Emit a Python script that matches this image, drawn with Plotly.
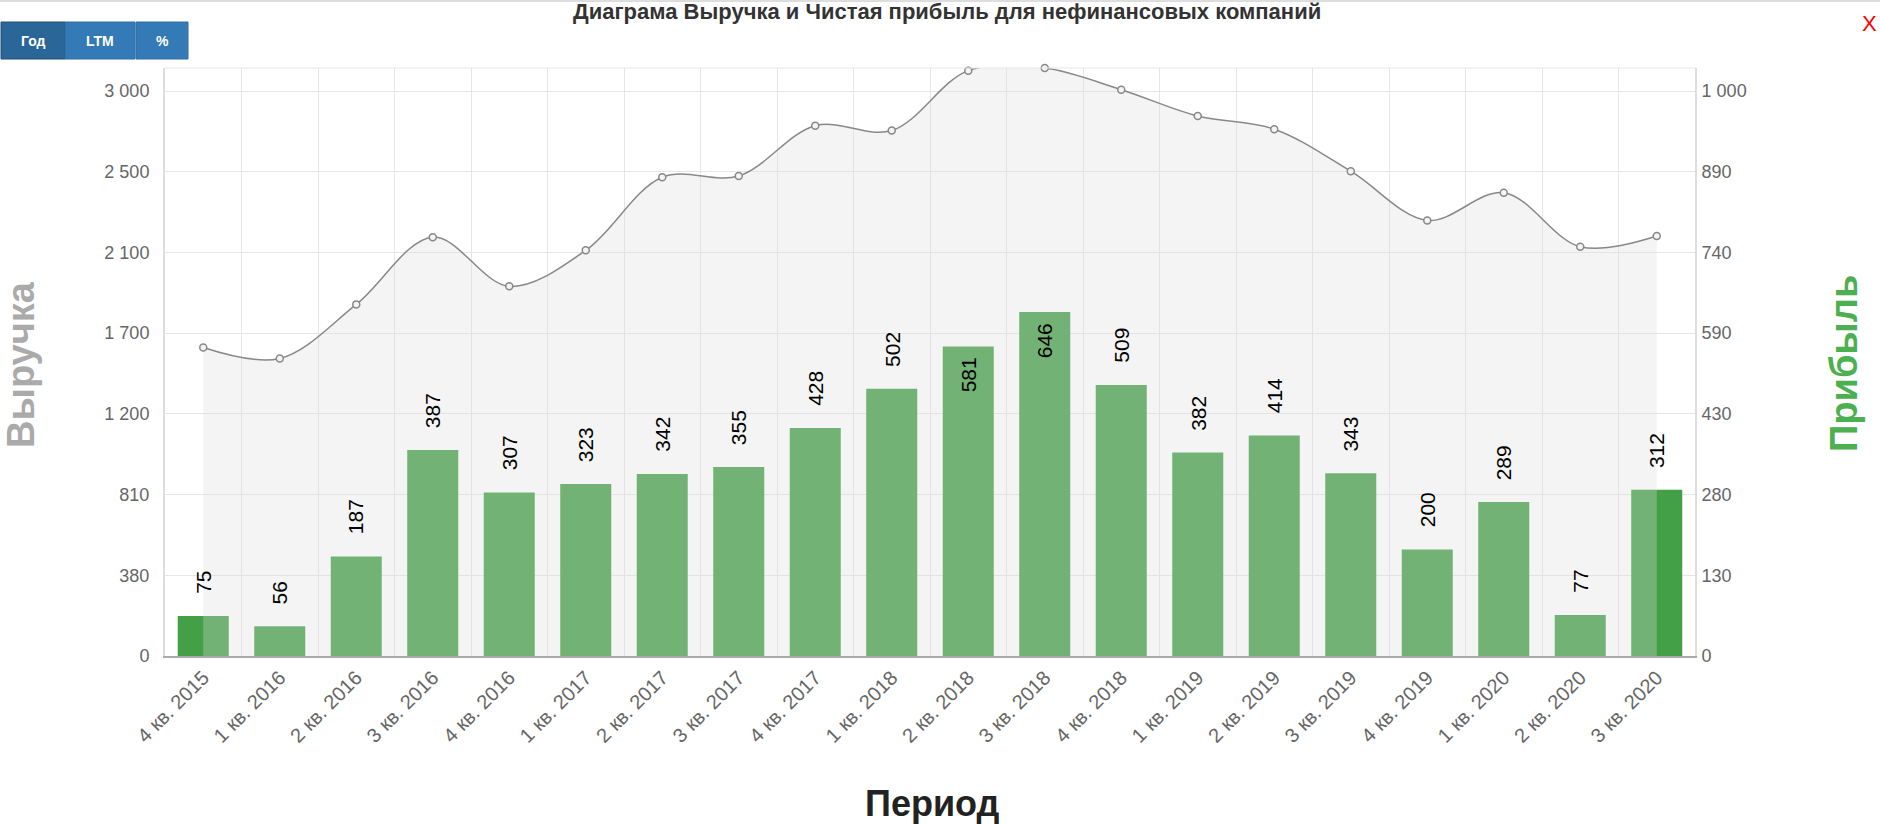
import plotly.graph_objects as go

# ---------------- data ----------------
periods = ["4 кв. 2015", "1 кв. 2016", "2 кв. 2016", "3 кв. 2016", "4 кв. 2016",
           "1 кв. 2017", "2 кв. 2017", "3 кв. 2017", "4 кв. 2017", "1 кв. 2018",
           "2 кв. 2018", "3 кв. 2018", "4 кв. 2018", "1 кв. 2019", "2 кв. 2019",
           "3 кв. 2019", "4 кв. 2019", "1 кв. 2020", "2 кв. 2020", "3 кв. 2020"]
revenue = [1638, 1580, 1867, 2224, 1963, 2154, 2542, 2549, 2816, 2790,
           3108, 3122, 3007, 2867, 2797, 2574, 2313, 2460, 2173, 2230]
profit = [75, 56, 187, 387, 307, 323, 342, 355, 428, 502,
          581, 646, 509, 382, 414, 343, 200, 289, 77, 312]
rev_tick_labels = ["0", "380", "810", "1 200", "1 700", "2 100", "2 500", "3 000"]
rev_tick_top = 3000
profit_tick_labels = ["0", "130", "280", "430", "590", "740", "890", "1 000"]
profit_tick_top = 1061

title_text = "Диаграма Выручка и Чистая прибыль для нефинансовых компаний"
buttons = ["Год", "LTM", "%"]

# ---------------- layout helpers ----------------
W, H = 1880, 824
L, R, T, B = 165, 185, 68, 168
PW, PH = W - L - R, H - T - B


def px(x):
    return (x - L) / PW


def py(y):
    return (H - B - y) / PH


n_int = len(rev_tick_labels) - 1
rev_tickvals = [rev_tick_top * i / n_int for i in range(n_int + 1)]
profit_tickvals = [profit_tick_top * i / n_int for i in range(n_int + 1)]
span_px = 565.0
rev_max = rev_tick_top * PH / span_px
profit_max = profit_tick_top * PH / span_px

FONT = "Liberation Sans, Arial, sans-serif"

fig = go.Figure()

fig.add_trace(go.Bar(
    x=periods, y=profit, yaxis="y", width=0.667,
    marker=dict(color="#43a047", line=dict(width=0)),
    hoverinfo="x+y", showlegend=False,
))

fig.add_trace(go.Scatter(
    x=periods, y=revenue, yaxis="y2", mode="lines+markers",
    line=dict(color="#888888", width=1.5, shape="spline", smoothing=1.0),
    marker=dict(symbol="circle", size=7, color="rgba(244,244,244,1)",
                line=dict(color="#888888", width=1.5)),
    fill="tozeroy", fillcolor="rgba(219,219,219,0.31)",
    cliponaxis=False, showlegend=False,
))

annotations = []
for p, v in zip(periods, profit):
    inside = v > 550
    annotations.append(dict(
        x=p, y=v, xref="x", yref="y", text=str(v), textangle=-90,
        showarrow=False, xanchor="center",
        yanchor="top" if inside else "bottom",
        yshift=-9 if inside else 20,
        font=dict(family=FONT, size=21, color="#000000"),
    ))

annotations += [
    dict(x=px(21), y=py(365), xref="paper", yref="paper", text="<b>Выручка</b>",
         textangle=-90, showarrow=False, xanchor="center", yanchor="middle",
         font=dict(family=FONT, size=38, color="#aaaaaa")),
    dict(x=px(1844), y=py(364), xref="paper", yref="paper", text="<b>Прибыль</b>",
         textangle=-90, showarrow=False, xanchor="center", yanchor="middle",
         font=dict(family=FONT, size=38, color="#4caf50")),
    dict(x=px(932), y=py(803), xref="paper", yref="paper", text="<b>Период</b>",
         showarrow=False, xanchor="center", yanchor="middle",
         font=dict(family=FONT, size=36, color="#222222")),
    dict(x=px(947), y=py(12), xref="paper", yref="paper", text="<b>" + title_text + "</b>",
         showarrow=False, xanchor="center", yanchor="middle",
         font=dict(family=FONT, size=22, color="#333333")),
    dict(x=px(1869), y=py(24), xref="paper", yref="paper", text="X",
         showarrow=False, xanchor="center", yanchor="middle",
         font=dict(family=FONT, size=22, color="#ff0000")),
]

shapes = []
btn_x = [(1, 65), (65, 135), (136, 188)]
btn_fill = ["#2b6698", "#337ab7", "#337ab7"]
btn_line = ["#204d74", "#2e6da4", "#2e6da4"]
for (x0, x1), label, fc, lc in zip(btn_x, buttons, btn_fill, btn_line):
    shapes.append(dict(type="rect", xref="paper", yref="paper",
                       x0=px(x0), x1=px(x1), y0=py(59), y1=py(22),
                       fillcolor=fc, line=dict(color=lc, width=1), layer="above"))
    annotations.append(dict(x=px((x0 + x1) / 2), y=py(41), xref="paper", yref="paper",
                            text="<b>" + label + "</b>", showarrow=False,
                            xanchor="center", yanchor="middle",
                            font=dict(family=FONT, size=14, color="#ffffff")))

shapes.append(dict(type="line", xref="paper", yref="paper", x0=px(0), x1=px(W),
                   y0=py(1), y1=py(1), line=dict(color="#dddddd", width=2)))
shapes.append(dict(type="line", xref="paper", yref="paper", x0=0, x1=1,
                   y0=1, y1=1, line=dict(color="#e6e6e6", width=1)))

fig.update_layout(
    width=W, height=H,
    margin=dict(l=L, r=R, t=T, b=B, autoexpand=False),
    paper_bgcolor="white", plot_bgcolor="white",
    bargap=0.333,
    showlegend=False,
    xaxis=dict(type="category", tickson="boundaries", showgrid=True,
               gridcolor="#e6e6e6", gridwidth=1, tickangle=-45,
               tickfont=dict(family=FONT, size=20, color="#666666"),
               showline=True, linecolor="#aaaaaa", linewidth=2, ticks="",
               range=[-0.5, len(periods) - 0.5]),
    yaxis=dict(side="right", range=[0, profit_max], tickvals=profit_tickvals,
               ticktext=profit_tick_labels, showgrid=True, gridcolor="#e6e6e6",
               zeroline=False, showline=True, linecolor="#dddddd", linewidth=2,
               tickfont=dict(family=FONT, size=18, color="#666666"),
               ticks="outside", ticklen=1, tickcolor="rgba(0,0,0,0)"),
    yaxis2=dict(side="left", overlaying="y", range=[0, rev_max], tickvals=rev_tickvals,
                ticktext=rev_tick_labels, showgrid=False, zeroline=False,
                showline=True, linecolor="#dddddd", linewidth=2,
                tickfont=dict(family=FONT, size=18, color="#666666"),
                ticks="outside", ticklen=10, tickcolor="rgba(0,0,0,0)"),
    annotations=annotations,
    shapes=shapes,
)

fig.write_html("out.html")
